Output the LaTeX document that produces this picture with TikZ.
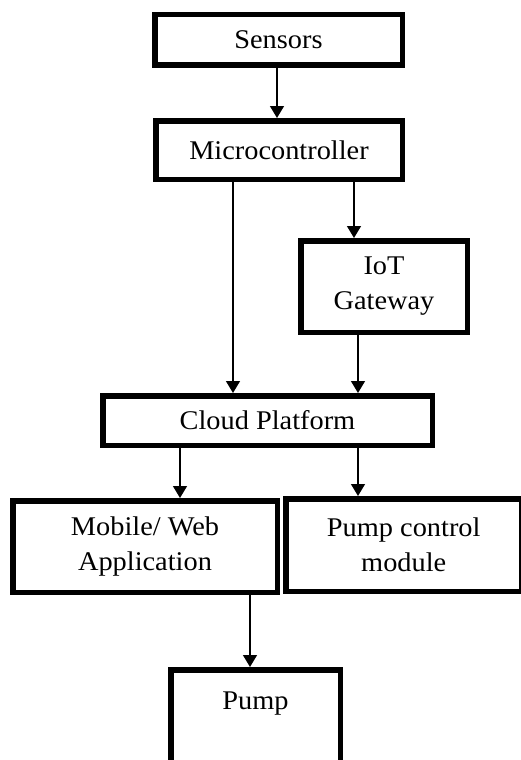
\documentclass[tikz,border=0pt]{standalone}
\usepackage{fontspec}
\setmainfont{Liberation Serif}[FakeStretch=1.05]
\usetikzlibrary{arrows.meta}
\begin{document}
\begin{tikzpicture}[x=1pt,y=-1pt,
  box/.style={draw, line width=5.5pt, rectangle, inner sep=0pt, align=center,
    font=\fontsize{27}{35}\selectfont},
  lbl/.style={inner sep=0pt, font=\fontsize{27}{35}\selectfont},
  link/.style={line width=1.4pt, -{Triangle[width=14pt,length=12pt]}}]
\useasboundingbox (0,0) rectangle (520,760);
\node[box, minimum width=247.5pt, minimum height=50.5pt] (sensors) at (278.5,40) {Sensors};
\node[box, minimum width=246.5pt, minimum height=58.5pt] (micro) at (279,150) {Microcontroller};
\node[box, minimum width=166.5pt, minimum height=91.5pt] (iot) at (384,286.5) {IoT\\Gateway};
\node[box, minimum width=329.5pt, minimum height=49.5pt] (cloud) at (267.5,420.5) {Cloud Platform};
\node[box, minimum width=264.5pt, minimum height=91.5pt] (mobile) at (145,546.5) {Mobile/ Web\\Application};
\node[box, minimum width=236pt, minimum height=92.5pt] (pcm) at (403.75,545) {Pump control\\module};
\node[box, minimum width=169.5pt, minimum height=120pt] (pump) at (255.5,729.75) {};
\node[lbl] (pumptext) at (255.5,704) {Pump};
\coordinate (xs) at (277,0);
\coordinate (xa) at (233,0);
\coordinate (xb) at (354,0);
\coordinate (xc) at (358,0);
\coordinate (xd) at (180,0);
\coordinate (xe) at (250,0);
\draw[link] (sensors.south -| xs) -- (micro.north -| xs);
\draw[link] (micro.south -| xa) -- (cloud.north -| xa);
\draw[link] (micro.south -| xb) -- (iot.north -| xb);
\draw[link] (iot.south -| xc) -- (cloud.north -| xc);
\draw[link] (cloud.south -| xd) -- (mobile.north -| xd);
\draw[link] (cloud.south -| xc) -- (pcm.north -| xc);
\draw[link] (mobile.south -| xe) -- (pump.north -| xe);
\end{tikzpicture}
\end{document}
